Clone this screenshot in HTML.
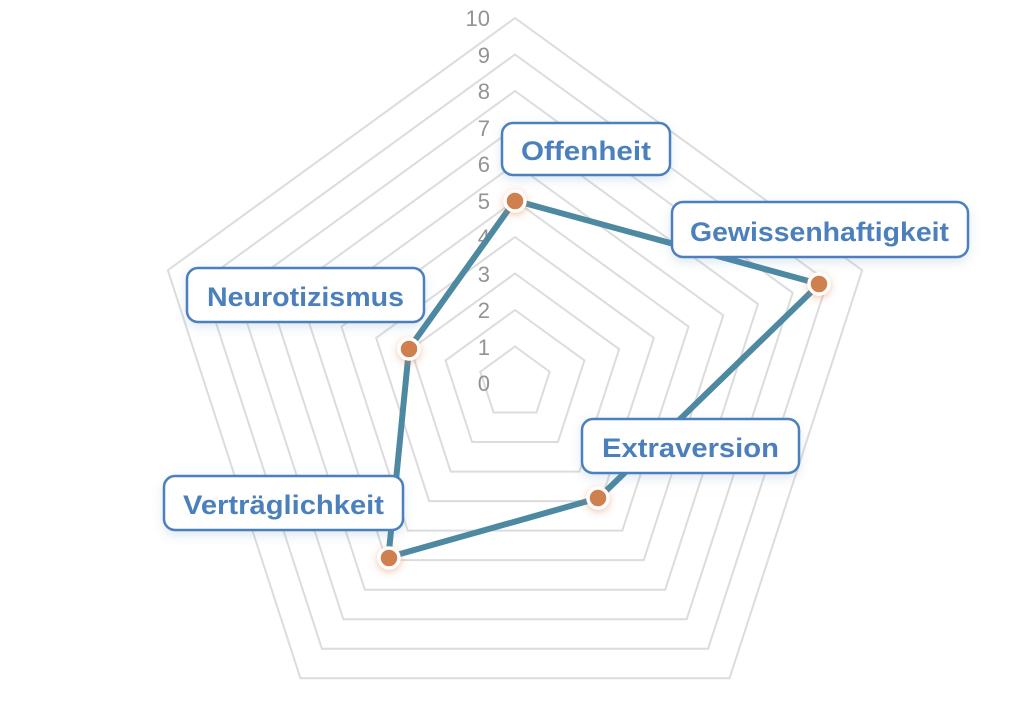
<!DOCTYPE html>
<html><head><meta charset="utf-8"><style>
html,body{margin:0;padding:0;background:#fff;}
svg{display:block;}
.lbl{font-family:"Liberation Sans",sans-serif;font-weight:bold;font-size:27px;fill:#4b80bd;}
.ax{font-family:"Liberation Sans",sans-serif;font-size:22px;fill:#939393;text-anchor:end;}
.box{fill:#fff;stroke:#4b80bd;stroke-width:2.5;filter:url(#sh);}
</style></head><body>
<svg width="1024" height="723" viewBox="0 0 1024 723">
<defs>
<filter id="sh" x="-20%" y="-30%" width="140%" height="180%"><feDropShadow dx="0" dy="4" stdDeviation="5" flood-color="#4b80bd" flood-opacity="0.18"/></filter>
<filter id="glow" x="-100%" y="-100%" width="300%" height="300%"><feDropShadow dx="0" dy="2" stdDeviation="4" flood-color="#e07a40" flood-opacity="0.45"/></filter>
<polygon id="p" points="0,-1 0.9511,-0.309 0.5878,0.809 -0.5878,0.809 -0.9511,-0.309" fill="none" stroke="#dcdcdc" stroke-width="2" vector-effect="non-scaling-stroke"/>
</defs>
<g>
<use href="#p" transform="translate(515,383) scale(36.5)"/>
<use href="#p" transform="translate(515,383) scale(73)"/>
<use href="#p" transform="translate(515,383) scale(109.5)"/>
<use href="#p" transform="translate(515,383) scale(146)"/>
<use href="#p" transform="translate(515,383) scale(182.5)"/>
<use href="#p" transform="translate(515,383) scale(219)"/>
<use href="#p" transform="translate(515,383) scale(255.5)"/>
<use href="#p" transform="translate(515,383) scale(292)"/>
<use href="#p" transform="translate(515,383) scale(328.5)"/>
<use href="#p" transform="translate(515,383) scale(365)"/>
</g>
<g class="ax">
<text x="490" y="391">0</text>
<text x="490" y="355">1</text>
<text x="490" y="318">2</text>
<text x="490" y="282">3</text>
<text x="490" y="245">4</text>
<text x="490" y="209">5</text>
<text x="490" y="172">6</text>
<text x="490" y="136">7</text>
<text x="490" y="99">8</text>
<text x="490" y="63">9</text>
<text x="490" y="26">10</text>
</g>
<polygon points="515,200.5 819.4,284 598.7,498 388.4,557.3 409,348.6" fill="none" stroke="#4e89a2" stroke-width="6" stroke-linejoin="round"/>
<g fill="#d0804f" stroke="#fff" stroke-width="3.5" filter="url(#glow)">
<circle cx="515" cy="201" r="10"/>
<circle cx="819" cy="284" r="10"/>
<circle cx="598" cy="498" r="10"/>
<circle cx="389" cy="558" r="10"/>
<circle cx="409" cy="349" r="10"/>
</g>
<rect class="box" x="502" y="123" width="168" height="52" rx="11"/>
<text class="lbl" x="521" y="160" textLength="130" lengthAdjust="spacingAndGlyphs">Offenheit</text>
<rect class="box" x="672" y="202" width="296" height="55" rx="11"/>
<text class="lbl" x="690" y="241" textLength="259" lengthAdjust="spacingAndGlyphs">Gewissenhaftigkeit</text>
<rect class="box" x="187" y="268" width="237" height="54" rx="11"/>
<text class="lbl" x="207" y="306" textLength="197" lengthAdjust="spacingAndGlyphs">Neurotizismus</text>
<rect class="box" x="582" y="419" width="217" height="54" rx="11"/>
<text class="lbl" x="602" y="457" textLength="177" lengthAdjust="spacingAndGlyphs">Extraversion</text>
<rect class="box" x="164" y="476" width="239" height="54" rx="11"/>
<text class="lbl" x="183" y="514" textLength="201" lengthAdjust="spacingAndGlyphs">Verträglichkeit</text>
</svg>
</body></html>
